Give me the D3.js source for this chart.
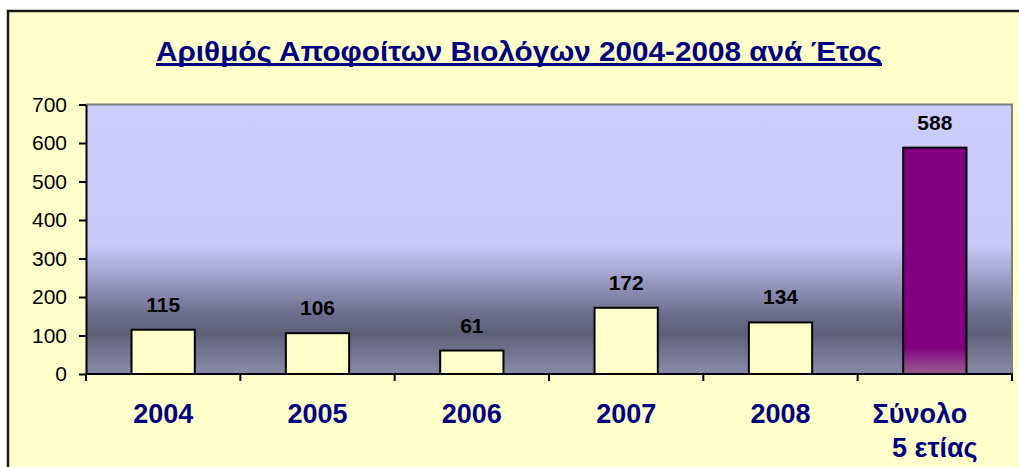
<!DOCTYPE html>
<html>
<head>
<meta charset="UTF-8">
<title>Αριθμός Αποφοίτων Βιολόγων</title>
<style>
    body { margin: 0; background: #ffffff; }
    svg { display: block; font-family: "Liberation Sans", Arial, sans-serif; }
</style>
</head>
<body>
<svg></svg>
<script src="https://d3js.org/d3.v7.min.js"></script>
<script>
    // data
    let categories = ["2004", "2005", "2006", "2007", "2008", "Σύνολο 5 ετίας"];
    let values = [115, 106, 61, 172, 134, 588];
    let yTicks = [0, 100, 200, 300, 400, 500, 600, 700];
    let title = "Αριθμός Αποφοίτων Βιολόγων 2004-2008 ανά Έτος";

    let width = 1019, height = 467;
    let plot = {left: 86, right: 1012, top: 104.5, bottom: 374};

    let svg = d3.select("svg")
        .attr("width", width)
        .attr("height", height);

    let defs = svg.append("defs");

    // plot area background gradient
    let bg = defs.append("linearGradient")
        .attr("id", "bg")
        .attr("x1", 0).attr("y1", 0).attr("x2", 0).attr("y2", 1);
    bg.append("stop").attr("offset", "0%").attr("stop-color", "#ccccfe");
    bg.append("stop").attr("offset", "52%").attr("stop-color", "#c9c9fa");
    bg.append("stop").attr("offset", "65%").attr("stop-color", "#9c9cc6");
    bg.append("stop").attr("offset", "78%").attr("stop-color", "#6c6d8c");
    bg.append("stop").attr("offset", "85%").attr("stop-color", "#5f6078");
    bg.append("stop").attr("offset", "100%").attr("stop-color", "#8a8aaa");

    let purple = defs.append("linearGradient")
        .attr("id", "purple")
        .attr("x1", 0).attr("y1", 0).attr("x2", 0).attr("y2", 1);
    purple.append("stop").attr("offset", "0%").attr("stop-color", "#800080");
    purple.append("stop").attr("offset", "88%").attr("stop-color", "#800080");
    purple.append("stop").attr("offset", "100%").attr("stop-color", "#9c5e92");

    // chart area
    svg.append("rect")
        .attr("x", 8).attr("y", 11)
        .attr("width", width + 10).attr("height", height + 10)
        .attr("fill", "#ffffcc")
        .attr("stroke", "#1a1a1a")
        .attr("stroke-width", 2.5);

    // title
    svg.append("text")
        .attr("x", 519)
        .attr("y", 60.5)
        .attr("text-anchor", "middle")
        .attr("textLength", 726)
        .attr("lengthAdjust", "spacingAndGlyphs")
        .style("font-size", "28px")
        .style("font-weight", "bold")
        .style("fill", "#000080")
        .text(title);
    svg.append("line")
        .attr("x1", 156).attr("x2", 882)
        .attr("y1", 64.5).attr("y2", 64.5)
        .attr("stroke", "#000080")
        .attr("stroke-width", 3);

    let x = d3.scaleBand()
        .domain(categories)
        .range([plot.left, plot.right])
        .paddingInner(0.59)
        .paddingOuter(0.295);

    let y = d3.scaleLinear()
        .domain([0, 700])
        .range([plot.bottom, plot.top]);

    // plot area
    svg.append("rect")
        .attr("x", plot.left).attr("y", plot.top)
        .attr("width", plot.right - plot.left)
        .attr("height", plot.bottom - plot.top)
        .attr("fill", "url(#bg)");
    svg.append("path")
        .attr("d", "M" + plot.left + "," + plot.top + "H" + plot.right + "V" + plot.bottom)
        .attr("fill", "none")
        .attr("stroke", "#808080")
        .attr("stroke-width", 2);

    // bars
    svg.append("g")
        .selectAll("rect")
        .data(values)
        .join("rect")
        .attr("x", (d, i) => x(categories[i]))
        .attr("y", d => y(d))
        .attr("width", x.bandwidth())
        .attr("height", d => y(0) - y(d))
        .attr("fill", (d, i) => i == values.length - 1 ? "url(#purple)" : "#ffffcc")
        .attr("stroke", "#000")
        .attr("stroke-width", 2);

    // value labels
    svg.append("g")
        .selectAll("text")
        .data(values)
        .join("text")
        .attr("x", (d, i) => x(categories[i]) + x.bandwidth() / 2)
        .attr("y", d => y(d) - 18)
        .attr("text-anchor", "middle")
        .style("font-size", "21px")
        .style("font-weight", "bold")
        .style("fill", "#000")
        .text(d => d);

    // y axis
    let yAxis = svg.append("g")
        .attr("transform", "translate(" + plot.left + ",0)")
        .call(d3.axisLeft(y).tickValues(yTicks).tickSize(7).tickPadding(12).tickSizeOuter(0));
    yAxis.select(".domain").attr("stroke", "#000").attr("stroke-width", 2);
    yAxis.selectAll(".tick line").attr("stroke", "#000").attr("stroke-width", 2);
    yAxis.selectAll(".tick text")
        .style("font-size", "21px")
        .style("font-family", "Liberation Sans, Arial, sans-serif")
        .attr("fill", "#000");

    // x axis with ticks between categories
    let xAxis = svg.append("g")
        .attr("transform", "translate(0," + plot.bottom + ")");
    xAxis.append("line")
        .attr("x1", plot.left - 1).attr("x2", plot.right + 1)
        .attr("stroke", "#000")
        .attr("stroke-width", 2);
    let bounds = categories.map((c, i) => plot.left + i * x.step());
    bounds.push(plot.right);
    xAxis.selectAll(".xt")
        .data(bounds)
        .join("line")
        .attr("class", "xt")
        .attr("x1", d => d).attr("x2", d => d)
        .attr("y1", 0).attr("y2", 7)
        .attr("stroke", "#000")
        .attr("stroke-width", 2);

    let labels = xAxis.selectAll(".xl")
        .data(categories)
        .join("text")
        .attr("class", "xl")
        .attr("text-anchor", "middle")
        .attr("y", 49)
        .style("font-size", "27px")
        .style("font-weight", "bold")
        .style("fill", "#000080");
    labels.each(function (c) {
        let cx = x(c) + x.bandwidth() / 2;
        let words = c.split(" ");
        let t = d3.select(this);
        if (words.length > 2) {
            t.append("tspan").attr("x", cx - 15).text(words[0]);
            t.append("tspan").attr("x", cx).attr("dy", 34).text(words.slice(1).join(" "));
        } else {
            t.append("tspan").attr("x", cx).text(c);
        }
    });
</script>
</body>
</html>
